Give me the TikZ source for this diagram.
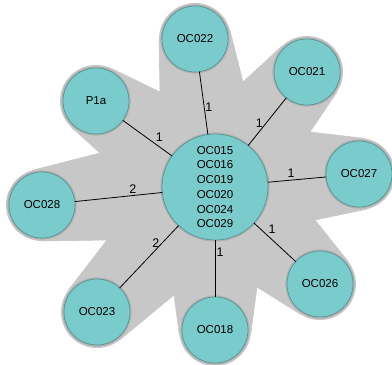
\documentclass[tikz,border=0pt]{standalone}
\usepackage{fontspec}
\setmainfont{Liberation Sans}
\usetikzlibrary{calc}

\definecolor{nodefill}{RGB}{122,204,204}
\definecolor{nodeline}{RGB}{84,148,148}
\definecolor{hull}{RGB}{199,199,199}
\definecolor{hullrim}{RGB}{176,176,176}

% One grey petal: convex hull of halo #1 and the two notch points #2, #3
\newcommand\drawpetal[3]{%
  \filldraw[hullpart] (#2) -- (tangent cs:node=#1,point={(#2)},solution=1) -- (#1.center)
     -- (tangent cs:node=#1,point={(#2)},solution=2) -- cycle;
  \filldraw[hullpart] (#3) -- (tangent cs:node=#1,point={(#3)},solution=1) -- (#1.center)
     -- (tangent cs:node=#1,point={(#3)},solution=2) -- cycle;
  \filldraw[hullpart] (#2) -- (#1.center) -- (#3) -- cycle;
  \fill[hull] (#1.center) circle[radius=36pt];}

\begin{document}
\begin{tikzpicture}[x=1pt,y=-1pt,
  hullpart/.style={fill=hull, draw=hull, line width=0.6pt, line join=round},
  sat/.style={circle, fill=nodefill, draw=nodeline, line width=0.7pt,
    minimum size=66pt, inner sep=0pt, outer sep=0pt,
    font=\fontsize{11.5}{14}\selectfont},
  hub/.style={sat, minimum size=106pt, align=center,
    font=\fontsize{11.5}{14.7}\selectfont},
  halo/.style={circle, minimum size=72pt, inner sep=0pt, outer sep=0pt},
  rim/.style={hullrim},
  edge/.style={line width=0.8pt, black},
  lbl/.style={font=\fontsize{12.5}{14}\selectfont, inner sep=0pt}]

\useasboundingbox (0,0) rectangle (392,365);

% halo outlines used for the grey hull
\node[halo] (hp1a) at (96,101) {};
\node[halo] (h22)  at (195,39) {};
\node[halo] (h21)  at (307,72) {};
\node[halo] (h27)  at (359,174) {};
\node[halo] (h26)  at (320,284) {};
\node[halo] (h18)  at (215,330) {};
\node[halo] (h23)  at (97,312) {};
\node[halo] (h28)  at (42,205) {};

% notch points between the petals
\coordinate (n1) at (160,92);
\coordinate (n2) at (243,82);
\coordinate (n3) at (310,132);
\coordinate (n4) at (315,220);
\coordinate (n5) at (257,287);
\coordinate (n6) at (174,295);
\coordinate (n7) at (107,240);
\coordinate (n8) at (100,153);

% grey hull
\filldraw[hullpart] (n1) -- (n2) -- (n3) -- (n4) -- (n5) -- (n6) -- (n7) -- (n8) -- cycle;
\drawpetal{hp1a}{n8}{n1}
\drawpetal{h22}{n1}{n2}
\drawpetal{h21}{n2}{n3}
\drawpetal{h27}{n3}{n4}
\drawpetal{h26}{n4}{n5}
\drawpetal{h18}{n5}{n6}
\drawpetal{h23}{n6}{n7}
\drawpetal{h28}{n7}{n8}

% soft rims round the circles
\foreach \h in {hp1a,h22,h21,h27,h26,h18,h23,h28}
  \fill[rim] (\h.center) circle[radius=34.6pt];
\fill[rim] (215,187) circle[radius=54.6pt];

% nodes
\node[hub] (c) at (215,187) {OC015\\OC016\\OC019\\OC020\\OC024\\OC029};
\node[sat] (p1a)  at (96,101)  {P1a};
\node[sat] (oc22) at (195,39)  {OC022};
\node[sat] (oc21) at (307,72)  {OC021};
\node[sat] (oc27) at (359,174) {OC027};
\node[sat] (oc26) at (320,284) {OC026};
\node[sat] (oc18) at (215,330) {OC018};
\node[sat] (oc23) at (97,312)  {OC023};
\node[sat] (oc28) at (42,205)  {OC028};

% connectors with weights
\draw[edge] (c) -- node[lbl, pos=0.35, xshift=4.5pt, yshift=6pt] {1} (p1a);
\draw[edge] (c) -- node[lbl, pos=0.43, xshift=4.7pt, yshift=0.6pt] {1} (oc22);
\draw[edge] (c) -- node[lbl, pos=0.40, xshift=-4pt, yshift=3.5pt] {1} (oc21);
\draw[edge] (c) -- node[lbl, pos=0.41, xshift=-0.6pt, yshift=6.5pt] {1} (oc27);
\draw[edge] (c) -- node[lbl, pos=0.31, xshift=5.3pt, yshift=5.7pt] {1} (oc26);
\draw[edge] (c) -- node[lbl, pos=0.21, xshift=5pt] {1} (oc18);
\draw[edge] (c) -- node[lbl, pos=0.33, xshift=-3.3pt, yshift=3pt] {2} (oc23);
\draw[edge] (c) -- node[lbl, pos=0.33, xshift=-0.6pt, yshift=6.5pt] {2} (oc28);
\end{tikzpicture}
\end{document}
